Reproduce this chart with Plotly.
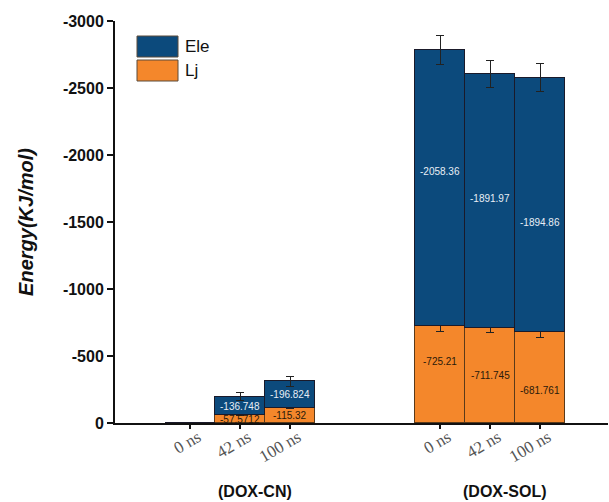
import plotly.graph_objects as go

# Categories: simulation time per system
groups = ["(DOX-CN)", "(DOX-SOL)"]
times = ["0 ns", "42 ns", "100 ns"]

# Interaction energies (kJ/mol), one entry per time point
lj_cn = [0.0, -57.5712, -115.32]
ele_cn = [0.0, -136.748, -196.824]
lj_sol = [-725.21, -711.745, -681.761]
ele_sol = [-2058.36, -1891.97, -1894.86]

# Standard deviations
lj_err_cn = [0.0, 5.0, 6.0]
ele_err_cn = [0.0, 30.0, 38.0]
lj_err_sol = [45.0, 37.0, 42.0]
ele_err_sol = [108.0, 100.0, 105.0]

lj_text_cn = ["", "-57.5712", "-115.32"]
ele_text_cn = ["", "-136.748", "-196.824"]
lj_text_sol = ["-725.21", "-711.745", "-681.761"]
ele_text_sol = ["-2058.36", "-1891.97", "-1894.86"]

y_ticks = [0, -500, -1000, -1500, -2000, -2500, -3000]

BLUE = "#0c4a7c"
ORANGE = "#f4872b"

# numeric x positions: two groups of three bars, separated by a gap
x_cn = [0, 1, 2]
x_sol = [5, 6, 7]
xs = x_cn + x_sol

lj = lj_cn + lj_sol
ele = ele_cn + ele_sol
lj_err = lj_err_cn + lj_err_sol
ele_err = ele_err_cn + ele_err_sol
lj_text = lj_text_cn + lj_text_sol
ele_text = ele_text_cn + ele_text_sol

# where each value label sits along its segment (0 = segment start, 1 = end)
lj_label_frac = [0.5, 0.5, 0.5, 0.63, 0.50, 0.36]
ele_label_frac = [0.5, 0.5, 0.5, 0.56, 0.51, 0.43]

fig = go.Figure()

err_style = dict(type="data", visible=True, color="#222222", thickness=1, width=4)

fig.add_trace(go.Bar(
    x=xs, y=lj, name="Lj", width=1.0,
    marker=dict(color=ORANGE, line=dict(color="#5a3a1a", width=1)),
    error_y=dict(array=lj_err, **err_style),
    showlegend=False,
))
fig.add_trace(go.Bar(
    x=xs, y=ele, name="Ele", width=1.0,
    marker=dict(color=BLUE, line=dict(color="#1a1a2a", width=1)),
    error_y=dict(array=ele_err, **err_style),
    showlegend=False,
))

# value labels inside each stacked segment
for xi, lv, ev, lt, et, lf, ef in zip(xs, lj, ele, lj_text, ele_text,
                                      lj_label_frac, ele_label_frac):
    if lt:
        fig.add_annotation(x=xi, y=lv * lf, text=lt, showarrow=False,
                           font=dict(family="Arial", size=10, color="#2a1a0a"))
    if et:
        fig.add_annotation(x=xi, y=lv + ev * ef, text=et, showarrow=False,
                           font=dict(family="Arial", size=10, color="#e8eef5"))

fig.update_layout(
    width=609, height=502,
    margin=dict(l=115, r=1, t=21, b=79),
    barmode="stack", bargap=0,
    plot_bgcolor="white", paper_bgcolor="white",
    font=dict(family="Arial", color="#111111"),
)

fig.update_xaxes(
    range=[-1.5, 8.36],
    tickvals=xs, ticktext=times * 2,
    tickangle=-30,
    ticklabelstandoff=-8, ticklabelshift=8,
    tickfont=dict(family="Liberation Serif", size=17, color="#555555"),
    showline=True, linecolor="#111111", linewidth=2,
    ticks="outside", ticklen=4, tickwidth=1.5, tickcolor="#111111",
    showgrid=False, zeroline=False,
)
fig.update_yaxes(
    range=[0, -3000],
    tickvals=y_ticks, ticktext=[str(v) for v in y_ticks],
    tickfont=dict(family="Arial", size=16, color="#111111", weight="bold"),
    showline=True, linecolor="#111111", linewidth=2,
    ticks="outside", ticklen=6, tickwidth=2, tickcolor="#111111",
    showgrid=False, zeroline=False,
    title=dict(text="<b><i>Energy(KJ/mol)</i></b>",
               font=dict(family="Arial", size=20, color="#111111"),
               standoff=24),
)

# group labels under each set of bars
for name, pos in zip(groups, [x_cn, x_sol]):
    fig.add_annotation(
        x=sum(pos) / len(pos) + 0.3, y=-0.17, xref="x", yref="paper",
        text="<b>" + name + "</b>", showarrow=False,
        font=dict(family="Arial", size=16, color="#111111"),
        xanchor="center", yanchor="middle",
    )

# legend with large swatches
legend_items = [("Ele", BLUE), ("Lj", ORANGE)]
x0, x1 = 137, 178
top = 36
h = 21
for i, (label, color) in enumerate(legend_items):
    y0 = top + i * (h + 3)
    fig.add_shape(
        type="rect", xref="paper", yref="paper",
        x0=(x0 - 115) / 493, x1=(x1 - 115) / 493,
        y0=1 - (y0 + h - 21) / 402, y1=1 - (y0 - 21) / 402,
        fillcolor=color, line=dict(color="#5a4a3a", width=1),
    )
    fig.add_annotation(
        xref="paper", yref="paper",
        x=(x1 + 5 - 115) / 493, y=1 - (y0 + h / 2 - 21) / 402,
        text=label, showarrow=False, xanchor="left", yanchor="middle",
        font=dict(family="Arial", size=17, color="#111111"),
    )

fig.write_html("out.html")
